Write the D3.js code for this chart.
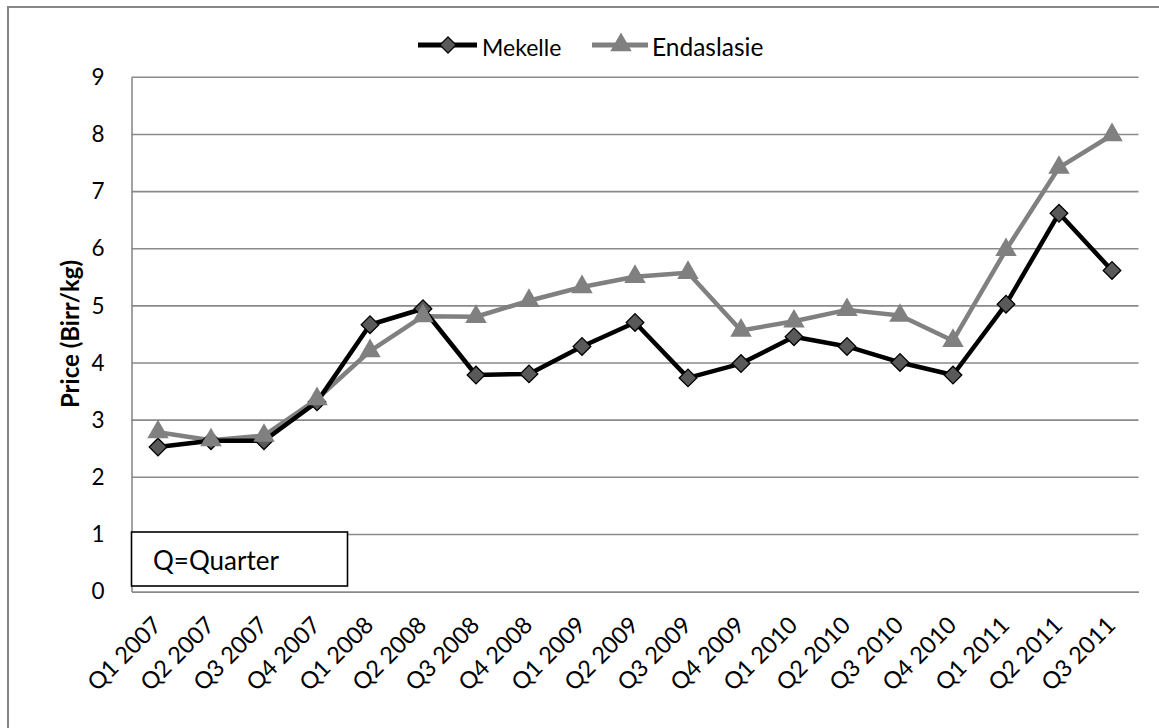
<!DOCTYPE html>
<html>
<head>
  <meta charset="utf-8">
  <script src="https://d3js.org/d3.v7.min.js"></script>
  <style>
    body { margin: 0; background: #fff; }
    text { font-family: Lato, "Liberation Sans", sans-serif; fill: #000; }
  </style>
</head>
<body>
<script>
  // quarterly prices (Birr/kg)
  var quarters = ["Q1 2007", "Q2 2007", "Q3 2007", "Q4 2007",
                  "Q1 2008", "Q2 2008", "Q3 2008", "Q4 2008",
                  "Q1 2009", "Q2 2009", "Q3 2009", "Q4 2009",
                  "Q1 2010", "Q2 2010", "Q3 2010", "Q4 2010",
                  "Q1 2011", "Q2 2011", "Q3 2011"];
  var mekelle = [2.53, 2.64, 2.64, 3.32, 4.67, 4.95, 3.79, 3.81, 4.29, 4.71,
                 3.74, 3.99, 4.46, 4.29, 4.01, 3.79, 5.03, 6.62, 5.62];
  var endaslasie = [2.79, 2.65, 2.73, 3.37, 4.21, 4.82, 4.81, 5.09, 5.33, 5.51,
                    5.58, 4.57, 4.73, 4.93, 4.83, 4.39, 5.98, 7.42, 7.99];
  var yTicks = [0, 1, 2, 3, 4, 5, 6, 7, 8, 9];
  var seriesNames = ["Mekelle", "Endaslasie"];

  function draw() {
    "use strict";
    var width = 1159, height = 728;
    var plotLeft = 131.5, plotRight = 1138.5, plotTop = 77.3, plotBottom = 591.6;

    var svg = d3.select("body").append("svg")
        .attr("width", width)
        .attr("height", height);

    // chart frame (right and bottom edges run off the page)
    svg.append("rect")
        .attr("x", 8).attr("y", 7)
        .attr("width", width + 20).attr("height", height + 20)
        .attr("fill", "none")
        .attr("stroke", "#868686")
        .attr("stroke-width", 2);

    var x = d3.scaleBand().domain(quarters).range([plotLeft, plotRight]).padding(0);
    var y = d3.scaleLinear().domain([0, 9]).range([plotBottom, plotTop]);
    var cx = function (q) { return x(q) + x.bandwidth() / 2; };

    // gridlines
    svg.append("g").selectAll("line")
        .data(yTicks.filter(function (d) { return d > 0; }))
        .enter().append("line")
        .attr("x1", plotLeft).attr("x2", plotRight)
        .attr("y1", function (d) { return y(d); })
        .attr("y2", function (d) { return y(d); })
        .attr("stroke", "#8a8a8a")
        .attr("stroke-width", 1.6);

    // y axis
    var yAxis = svg.append("g")
        .attr("transform", "translate(" + plotLeft + ",0)")
        .call(d3.axisLeft(y).tickValues(yTicks).tickSize(0).tickPadding(27));
    yAxis.select(".domain").attr("stroke", "#8a8a8a").attr("stroke-width", 1.6);
    yAxis.selectAll("text")
        .style("font-size", "22.5px")
        .style("font-family", "Lato")
        .attr("fill", "#000");

    // x axis
    var xAxis = svg.append("g")
        .attr("transform", "translate(0," + plotBottom + ")")
        .call(d3.axisBottom(x).tickSize(0).tickFormat(""));
    xAxis.select(".domain").attr("stroke", "#8a8a8a").attr("stroke-width", 1.6);

    svg.append("g").selectAll("text")
        .data(quarters)
        .enter().append("text")
        .attr("transform", function (d) {
          return "translate(" + (cx(d) + 5) + "," + (plotBottom + 35) + ") rotate(-45)";
        })
        .attr("text-anchor", "end")
        .style("font-size", "23.5px")
        .text(function (d) { return d; });

    // y title
    svg.append("text")
        .attr("transform", "translate(79,334) rotate(-90)")
        .attr("text-anchor", "middle")
        .style("font-size", "24px")
        .style("font-weight", "bold")
        .text("Price (Birr/kg)");

    var line = d3.line()
        .x(function (d, i) { return cx(quarters[i]); })
        .y(function (d) { return y(d); });

    var square = d3.symbol().type(d3.symbolSquare).size(155);
    var triangle = d3.symbol().type(d3.symbolTriangle).size(200);

    // Endaslasie first so Mekelle sits on top
    svg.append("path")
        .datum(endaslasie)
        .attr("d", line)
        .attr("fill", "none")
        .attr("stroke", "#808080")
        .attr("stroke-width", 4.5)
        .attr("stroke-linejoin", "round");

    svg.append("path")
        .datum(mekelle)
        .attr("d", line)
        .attr("fill", "none")
        .attr("stroke", "#000")
        .attr("stroke-width", 4.5)
        .attr("stroke-linejoin", "round");

    svg.append("g").selectAll("path")
        .data(mekelle)
        .enter().append("path")
        .attr("d", square)
        .attr("transform", function (d, i) {
          return "translate(" + cx(quarters[i]) + "," + y(d) + ") rotate(45)";
        })
        .attr("fill", "#595959")
        .attr("stroke", "#000")
        .attr("stroke-width", 1.3);

    svg.append("g").selectAll("path")
        .data(endaslasie)
        .enter().append("path")
        .attr("d", triangle)
        .attr("transform", function (d, i) {
          return "translate(" + cx(quarters[i]) + "," + y(d) + ")";
        })
        .attr("fill", "#808080");

    // legend
    var legendX = [418, 592];
    var lg = svg.append("g").selectAll("g")
        .data(seriesNames)
        .enter().append("g")
        .attr("transform", function (d, i) { return "translate(" + legendX[i] + ",45)"; });
    lg.append("line")
        .attr("x1", 0).attr("x2", function (d, i) { return i === 0 ? 59 : 56; })
        .attr("y1", 0).attr("y2", 0)
        .attr("stroke", function (d, i) { return i === 0 ? "#000" : "#808080"; })
        .attr("stroke-width", 5);
    lg.append("path")
        .attr("d", function (d, i) {
          return i === 0 ? d3.symbol().type(d3.symbolSquare).size(130)() : triangle();
        })
        .attr("transform", function (d, i) {
          return i === 0 ? "translate(30,0) rotate(45)" : "translate(29,0)";
        })
        .attr("fill", function (d, i) { return i === 0 ? "#595959" : "#808080"; })
        .attr("stroke", function (d, i) { return i === 0 ? "#000" : "none"; })
        .attr("stroke-width", 1.3);
    lg.append("text")
        .attr("x", function (d, i) { return i === 0 ? 64 : 60; })
        .attr("y", 11)
        .style("font-size", function (d, i) { return i === 0 ? "23px" : "24.5px"; })
        .text(function (d) { return d; });

    // note box
    svg.append("rect")
        .attr("x", plotLeft).attr("y", 532)
        .attr("width", 216).attr("height", 54)
        .attr("fill", "#fff")
        .attr("stroke", "#000")
        .attr("stroke-width", 1.6);
    svg.append("text")
        .attr("x", 153).attr("y", 570)
        .style("font-size", "26px")
        .text("Q=Quarter");
  }

  draw();
</script>
</body>
</html>
